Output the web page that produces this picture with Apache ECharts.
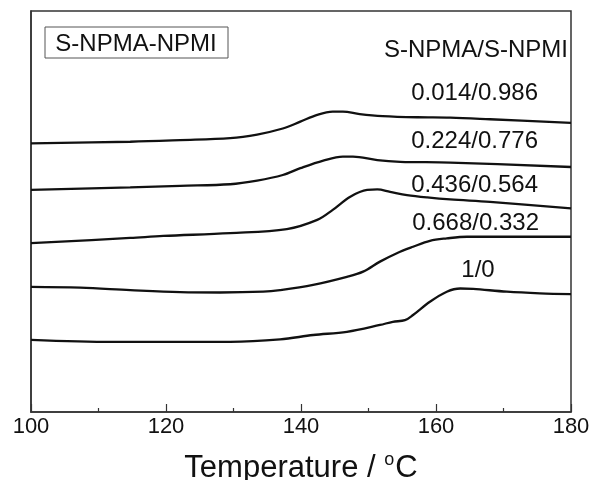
<!DOCTYPE html>
<html>
<head>
<meta charset="utf-8">
<script src="https://cdn.jsdelivr.net/npm/echarts@6/dist/echarts.min.js"></script>
<style>
  html, body { margin: 0; padding: 0; background: #fff; }
  #chart { width: 592px; height: 480px; }
</style>
</head>
<body>
<div id="chart"></div>
<script>
// DSC traces, heat flow in arbitrary units (curves are offset vertically)
var temp1 = [100, 114.7, 122.1, 129.5, 133.5, 137.3, 139.9, 142.4, 144.7, 146.2, 148.7, 152.1, 157.2, 162.1, 168, 180];
var flow1 = [67.0, 67.4, 67.8, 68.3, 69.2, 70.7, 72.4, 74.1, 74.9, 74.9, 74.3, 73.8, 73.5, 73.4, 73.0, 72.1];

var temp2 = [100, 114.7, 122.1, 129.5, 133.5, 137.3, 139.9, 143.3, 146.2, 147.7, 151.3, 154.7, 162.1, 180];
var flow2 = [55.4, 56.0, 56.4, 56.8, 57.7, 59.1, 60.8, 62.7, 63.7, 63.7, 62.8, 62.4, 62.2, 61.1];

var temp3 = [100, 114.7, 119.6, 129.5, 137.9, 142.4, 144.7, 147.3, 149.8, 151.3, 153.2, 155.7, 158.7, 162.1, 168, 180];
var flow3 = [42.1, 43.4, 43.9, 44.6, 45.6, 47.9, 50.4, 53.7, 55.4, 55.5, 54.9, 54.1, 53.5, 53.0, 52.4, 50.8];

var temp4 = [100, 107.3, 114.7, 122.1, 128, 134.4, 136.9, 141.8, 146.8, 149.2, 151.7, 154.2, 156.6, 159.1, 161.6, 164.6, 180];
var flow4 = [31.2, 31.0, 30.4, 29.9, 29.8, 30.0, 30.4, 31.7, 33.7, 35.0, 37.5, 39.6, 41.2, 42.7, 43.3, 43.7, 43.7];

var temp5 = [100, 112.1, 129.5, 136.9, 141.8, 146.8, 151.7, 153.6, 155.4, 156.6, 159.1, 161.6, 163.6, 165.5, 170.5, 175.4, 180];
var flow5 = [18.0, 17.5, 17.5, 18.1, 19.2, 20.0, 21.7, 22.5, 22.9, 24.2, 27.5, 30.0, 30.8, 30.7, 30.0, 29.6, 29.4];

var ratios = ['0.014/0.986', '0.224/0.776', '0.436/0.564', '0.668/0.332', '1/0'];
var xTicks = [100, 120, 140, 160, 180];

function pairs(t, v) {
  return t.map(function (x, i) { return [x, v[i]]; });
}

var FONT = '"Liberation Sans", Arial, sans-serif';
var chart = echarts.init(document.getElementById('chart'));

var lines = [[temp1, flow1], [temp2, flow2], [temp3, flow3], [temp4, flow4], [temp5, flow5]];

function label(txt, x, y, align, size) {
  return {
    type: 'text', x: x, y: y,
    style: { text: txt, font: size + 'px ' + FONT, fill: '#111', textAlign: align, textVerticalAlign: 'middle' }
  };
}

chart.setOption({
  animation: false,
  backgroundColor: '#fff',
  grid: {
    left: 31, right: 21, top: 11, bottom: 68,
    show: true, borderColor: '#333', borderWidth: 1.5,
    outerBoundsMode: 'none'
  },
  xAxis: {
    type: 'value',
    min: xTicks[0], max: xTicks[xTicks.length - 1], interval: 20,
    name: 'Temperature / {sup|o}C',
    nameLocation: 'middle',
    nameGap: 39,
    nameTextStyle: {
      fontFamily: FONT, fontSize: 31, color: '#111',
      rich: { sup: { fontFamily: FONT, fontSize: 18, color: '#111', padding: [0, 1, 16, 0] } }
    },
    axisLine: { lineStyle: { color: '#333', width: 1.5 } },
    axisTick: { inside: true, length: 8, lineStyle: { color: '#333', width: 1.2 } },
    minorTick: { show: true, splitNumber: 2, length: 4, lineStyle: { color: '#333', width: 1.2 } },
    axisLabel: { fontFamily: FONT, fontSize: 22, color: '#111', margin: 4 },
    splitLine: { show: false }
  },
  yAxis: {
    type: 'value', min: 0, max: 100,
    axisLine: { show: true, lineStyle: { color: '#333', width: 1.5 } },
    axisTick: { show: false },
    axisLabel: { show: false },
    splitLine: { show: false }
  },
  series: lines.map(function (l, i) {
    return {
      name: ratios[i],
      type: 'line',
      data: pairs(l[0], l[1]),
      smooth: 0.35,
      showSymbol: false,
      lineStyle: { color: '#111', width: 2.3 }
    };
  }),
  graphic: [
    { type: 'rect', shape: { x: 45, y: 27, width: 183, height: 31 },
      style: { fill: 'none', stroke: '#555', lineWidth: 1 } },
    label('S-NPMA-NPMI', 136, 44, 'center', 24),
    label('S-NPMA/S-NPMI', 568, 50, 'right', 24),
    label(ratios[0], 538, 93, 'right', 24),
    label(ratios[1], 538, 141, 'right', 24),
    label(ratios[2], 538, 185, 'right', 24),
    label(ratios[3], 539, 223, 'right', 24),
    label(ratios[4], 478, 270, 'center', 24)
  ]
});
</script>
</body>
</html>
